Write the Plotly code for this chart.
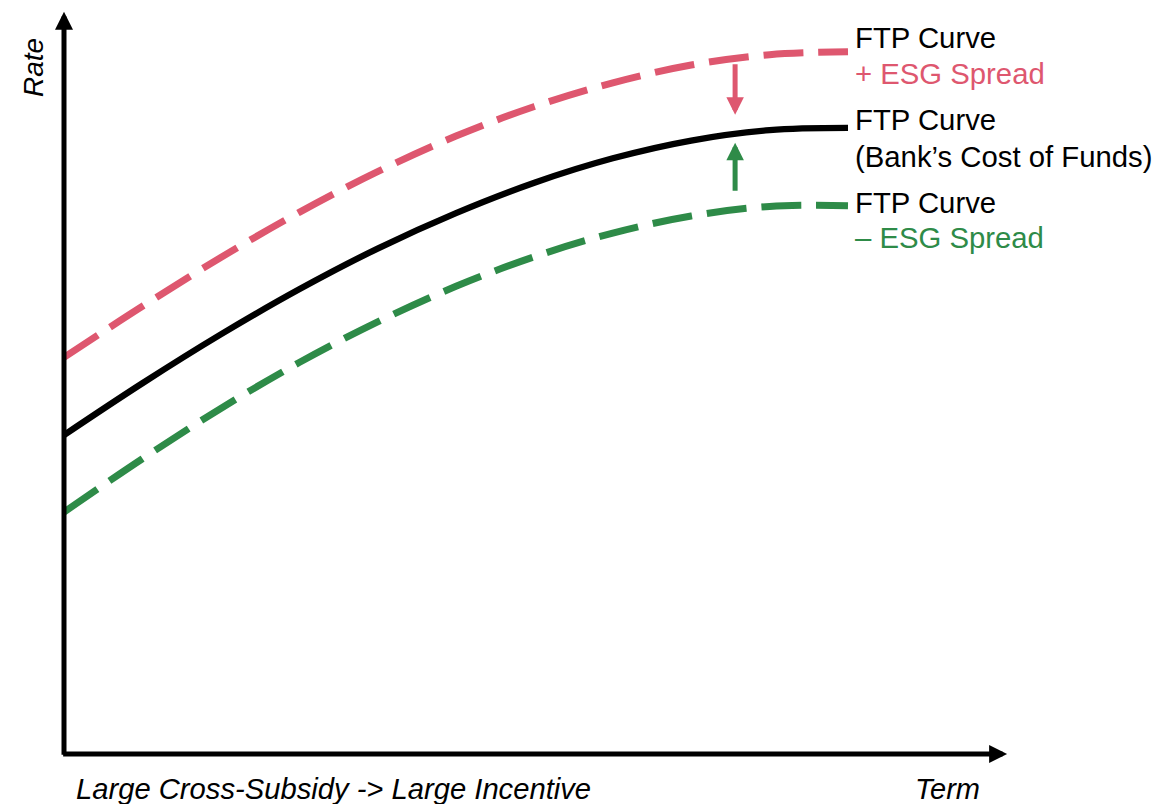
import plotly.graph_objects as go

# ---- data (arbitrary units) ----
term = [0, 10, 20, 30, 40, 50, 60, 70, 80, 90, 100]
ftp_base = [43.1, 50.1, 56.7, 62.8, 68.3, 73.1, 77.2, 80.5, 82.9, 84.3, 84.6]
ftp_plus = [53.6, 60.5, 67.1, 73.2, 78.7, 83.5, 87.5, 90.7, 93.1, 94.5, 94.9]
ftp_minus = [32.7, 39.9, 46.7, 52.9, 58.4, 63.2, 67.2, 70.4, 72.7, 74.0, 74.1]

# spread arrows (term, from-rate, to-rate)
arrow_term = 85.6
plus_arrow = (93.4, 86.4)
minus_arrow = (75.9, 82.6)

# axis extents
term_axis_end = 120.3
rate_axis_end = 100.3

PINK = "#DE576F"
GREEN = "#2E8B48"
BLACK = "#000000"
FONT = "Liberation Sans, Arial, sans-serif"

W, H = 1159, 804
PX_X = 7.84   # px per term unit
PX_Y = 7.4    # px per rate unit
X0, Y0 = 64, 754  # pixel origin

fig = go.Figure()
fig.add_trace(go.Scatter(x=term, y=ftp_plus, mode="lines",
                         line=dict(color=PINK, width=7, dash="40px,15px", shape="spline", smoothing=1.0),
                         hoverinfo="skip"))
fig.add_trace(go.Scatter(x=term, y=ftp_minus, mode="lines",
                         line=dict(color=GREEN, width=7, dash="40px,15px", shape="spline", smoothing=1.0),
                         hoverinfo="skip"))
fig.add_trace(go.Scatter(x=term, y=ftp_base, mode="lines",
                         line=dict(color=BLACK, width=6.3, shape="spline", smoothing=1.0),
                         hoverinfo="skip"))

ann = []
# axes with arrow heads
ann.append(dict(x=0, y=rate_axis_end, ax=0, ay=-0.3, xref="x", yref="y", axref="x", ayref="y",
                text="", showarrow=True, arrowhead=2, arrowsize=0.72, arrowwidth=5, arrowcolor=BLACK))
ann.append(dict(x=term_axis_end, y=0, ax=-0.3, ay=0, xref="x", yref="y", axref="x", ayref="y",
                text="", showarrow=True, arrowhead=2, arrowsize=0.72, arrowwidth=5, arrowcolor=BLACK))
# spread arrows
ann.append(dict(x=arrow_term, y=plus_arrow[1], ax=arrow_term, ay=plus_arrow[0], xref="x", yref="y",
                axref="x", ayref="y", text="", showarrow=True, arrowhead=2, arrowsize=0.7,
                arrowwidth=5, arrowcolor=PINK))
ann.append(dict(x=arrow_term, y=minus_arrow[1], ax=arrow_term, ay=minus_arrow[0], xref="x", yref="y",
                axref="x", ayref="y", text="", showarrow=True, arrowhead=2, arrowsize=0.7,
                arrowwidth=5, arrowcolor=GREEN))


def px_label(text, px, py, color=BLACK, size=29.3, italic=False, angle=0, xanchor="left"):
    return dict(x=px / W, y=1 - py / H, xref="paper", yref="paper", text=text, showarrow=False,
                xanchor=xanchor, yanchor="middle", textangle=angle,
                font=dict(family=FONT, size=size, color=color, style="italic" if italic else "normal"))


ann.append(px_label("FTP Curve", 853, 38))
ann.append(px_label("+ ESG Spread", 853, 73, color=PINK))
ann.append(px_label("FTP Curve", 853, 120))
ann.append(px_label("(Bank’s Cost of Funds)", 853, 156))
ann.append(px_label("FTP Curve", 853, 202))
ann.append(px_label("– ESG Spread", 853, 237, color=GREEN))
ann.append(px_label("Rate", 34, 68, size=28, italic=True, angle=-90, xanchor="center"))
ann.append(px_label("Large Cross-Subsidy -> Large Incentive", 74, 789, size=29.2, italic=True))
ann.append(px_label("Term", 947, 789, size=29, italic=True, xanchor="center"))

fig.update_layout(
    width=W, height=H,
    margin=dict(l=0, r=0, t=0, b=0),
    paper_bgcolor="white", plot_bgcolor="white",
    showlegend=False,
    xaxis=dict(range=[-X0 / PX_X, (W - X0) / PX_X], visible=False, fixedrange=True),
    yaxis=dict(range=[(Y0 - H) / PX_Y, Y0 / PX_Y], visible=False, fixedrange=True),
    annotations=ann,
    hovermode=False,
)

fig.write_html("out.html", config={"displayModeBar": False})
